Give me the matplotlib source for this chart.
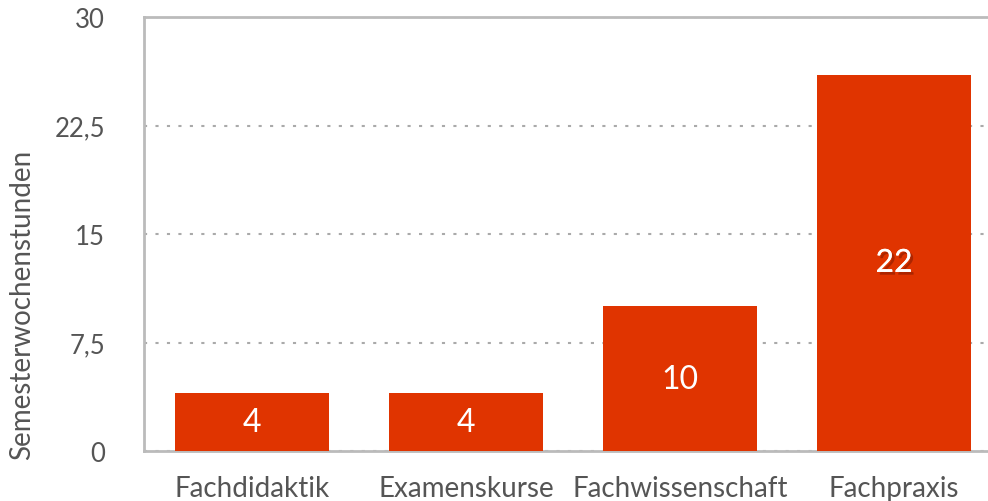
import matplotlib
matplotlib.use("Agg")
import matplotlib.pyplot as plt
import matplotlib.patheffects as pe

categories = ["Fachdidaktik", "Examenskurse", "Fachwissenschaft", "Fachpraxis"]
values = [4, 4, 10, 26]
value_labels = ["4", "4", "10", "22"]
yticks = [0, 7.5, 15, 22.5, 30]
ytick_labels = ["0", "7,5", "15", "22,5", "30"]

plt.rcParams['font.family'] = ['Lato', 'DejaVu Sans']

fig = plt.figure(figsize=(9.88, 5.02), dpi=100)
ax = fig.add_axes([144 / 988, 50 / 502, 857 / 988, 434 / 502])

bars = ax.bar(range(len(categories)), values, width=0.72, color="#e03400", zorder=3)

for i, (b, lab) in enumerate(zip(bars, value_labels)):
    txt = ax.text(b.get_x() + b.get_width() / 2, b.get_height() / 2, lab,
                  ha="center", va="center", color="white", fontsize=23, zorder=4)
    if lab == "22":
        txt.set_path_effects([pe.withSimplePatchShadow(offset=(2, -2), shadow_rgbFace="#8a1c00", alpha=0.6),
                              pe.Normal()])

ax.set_xlim(-0.505, 3.5)
ax.set_ylim(0, 30)
ax.set_yticks(yticks)
ax.set_yticklabels(ytick_labels)
ax.set_xticks(range(len(categories)))
ax.set_xticklabels(categories)
ax.tick_params(axis="both", length=0, labelsize=20, labelcolor="#555555")
ax.tick_params(axis="y", labelsize=18.5, pad=28)
ax.tick_params(axis="x", pad=17)
ax.set_ylabel("Semesterwochenstunden", fontsize=20, color="#555555")
ax.yaxis.set_label_coords(-0.127, 0.34)

ax.yaxis.grid(True, linestyle=(0, (1.5, 4)), color="#aaaaaa", linewidth=1.5, zorder=0)
for s in ["left", "bottom", "top"]:
    ax.spines[s].set_color("#bbbbbb")
    ax.spines[s].set_linewidth(2)
ax.spines["right"].set_visible(False)

fig.savefig("out.png", dpi=100)
